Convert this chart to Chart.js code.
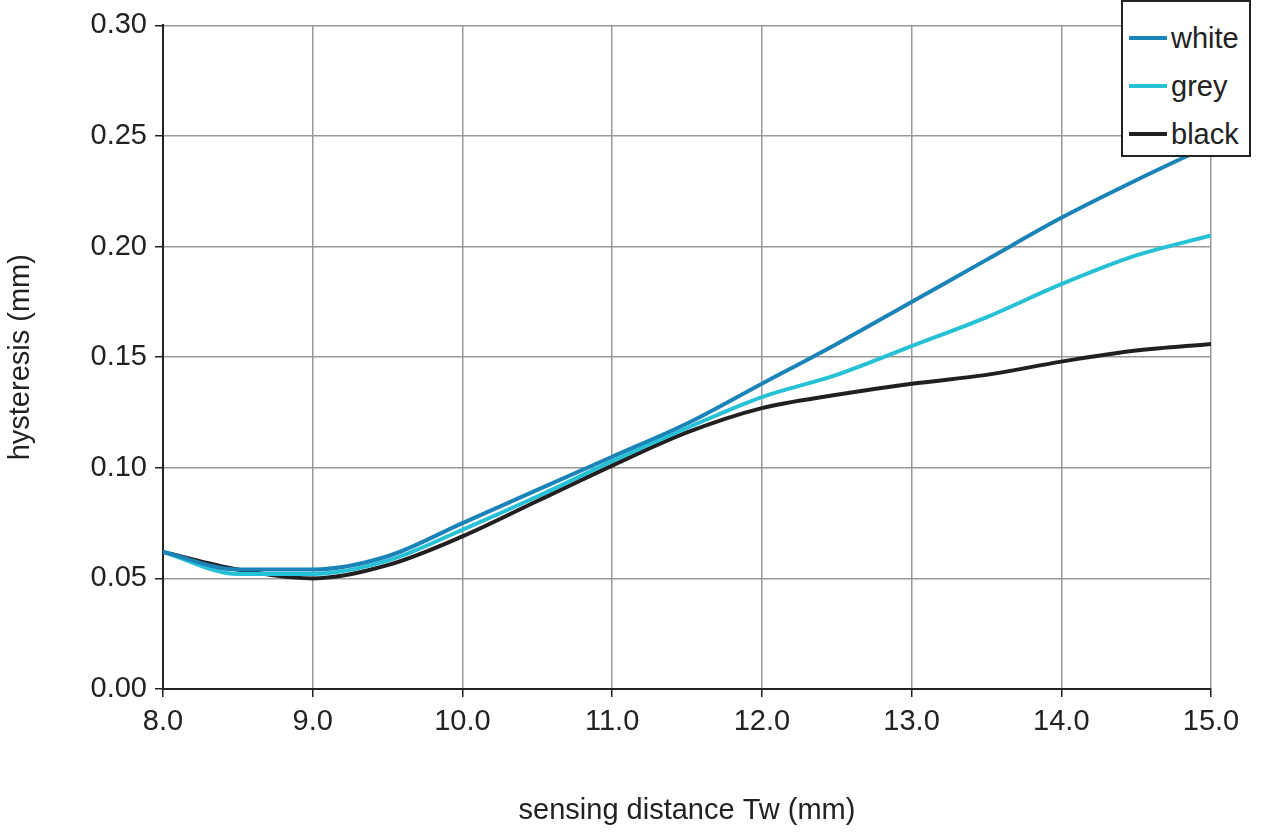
<!DOCTYPE html>
<html>
<head>
<meta charset="utf-8">
<script src="https://cdn.jsdelivr.net/npm/chart.js@4"></script>
<style>
  body { margin: 0; background: #fff; font-family: "Liberation Sans", Arial, sans-serif; }
  #wrap { position: relative; width: 1280px; height: 832px; }
  #legend { position: absolute; left: 1121px; top: 0px; width: 130px; height: 157px; border: 2px solid #222; background: #fff; box-sizing: border-box; padding-top: 12px; }
  .item { display: flex; align-items: center; height: 48px; font-size: 29px; color: #222; }
  .sw { width: 38px; height: 4px; margin: 0 4px 0 6px; }
</style>
</head>
<body>
<div id="wrap">
  <canvas id="chart" width="1280" height="832"></canvas>
  <div id="legend"></div>
</div>
<script>
var xs = [8.0, 8.5, 9.0, 9.5, 10.0, 10.5, 11.0, 11.5, 12.0, 12.5, 13.0, 13.5, 14.0, 14.5, 15.0];
var whiteVals = [0.062, 0.054, 0.054, 0.060, 0.075, 0.090, 0.105, 0.120, 0.138, 0.156, 0.175, 0.194, 0.213, 0.230, 0.246];
var greyVals  = [0.062, 0.052, 0.052, 0.058, 0.072, 0.087, 0.103, 0.118, 0.132, 0.142, 0.155, 0.168, 0.183, 0.196, 0.205];
var blackVals = [0.062, 0.054, 0.050, 0.056, 0.069, 0.085, 0.101, 0.116, 0.127, 0.133, 0.138, 0.142, 0.148, 0.153, 0.156];
var names = ['white', 'grey', 'black'];
var colors = ['#1a84b8', '#27c1d6', '#231f20'];

function pts(v) { return xs.map(function(x, i) { return { x: x, y: v[i] }; }); }

var series = [whiteVals, greyVals, blackVals];
var datasets = series.map(function(v, i) {
  return { label: names[i], data: pts(v), borderColor: colors[i], borderWidth: 4,
           pointRadius: 0, fill: false, cubicInterpolationMode: 'monotone' };
});

var font = { family: '"Liberation Sans", Arial, sans-serif', size: 29 };

new Chart(document.getElementById('chart').getContext('2d'), {
  type: 'line',
  data: { datasets: datasets },
  options: {
    responsive: false,
    animation: false,
    layout: { padding: { top: 21, right: 69, left: 0, bottom: 0 } },
    plugins: { legend: { display: false }, tooltip: { enabled: false } },
    scales: {
      x: {
        type: 'linear', min: 8, max: 15,
        afterFit: function(s) { s.height = 143; },
        ticks: { stepSize: 1, color: '#222', font: font, padding: 8,
                 callback: function(v) { return v.toFixed(1); } },
        grid: { color: '#999', lineWidth: 1.5, tickLength: 8, tickColor: '#222' },
        border: { color: '#222', width: 2 },
        title: { display: true, text: 'sensing distance Tw (mm)', color: '#222', font: font, padding: { top: 4 } }
      },
      y: {
        min: 0, max: 0.3,
        afterFit: function(s) { s.width = 163; },
        ticks: { stepSize: 0.05, color: '#222', font: font, padding: 8,
                 callback: function(v) { return v.toFixed(2); } },
        grid: { color: '#999', lineWidth: 1.5, tickLength: 8, tickColor: '#222' },
        border: { color: '#222', width: 2 },
        title: { display: true, text: 'hysteresis (mm)', color: '#222', font: font, padding: { bottom: 6 } }
      }
    }
  }
});

var lg = document.getElementById('legend');
names.forEach(function(n, i) {
  lg.innerHTML += '<div class="item"><span class="sw" style="background:' + colors[i] + '"></span>' + n + '</div>';
});
</script>
</body>
</html>
